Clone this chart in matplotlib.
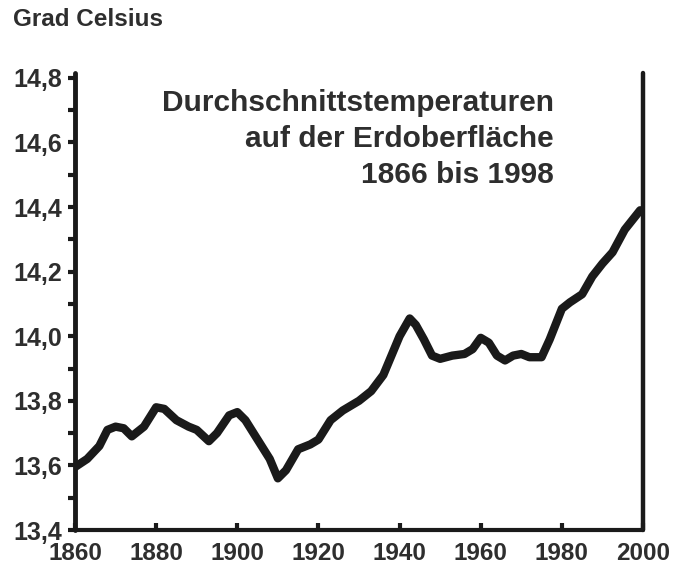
import matplotlib
matplotlib.use("Agg")
import matplotlib.pyplot as plt

# Durchschnittstemperaturen
years = [1860, 1863, 1866, 1868, 1870, 1872, 1874, 1877, 1880, 1882, 1885, 1888,
         1890, 1893, 1895, 1898, 1900, 1902, 1905, 1908, 1910, 1912, 1915, 1918,
         1920, 1923, 1926, 1930, 1933, 1936, 1938, 1940, 1942.5, 1944, 1946, 1948,
         1950, 1953, 1956, 1958, 1960, 1962, 1964, 1966, 1968, 1970, 1972, 1975,
         1977, 1980, 1982, 1985, 1987.5, 1990, 1992.5, 1995.5, 1999.3]
temps = [13.595, 13.62, 13.66, 13.71, 13.72, 13.715, 13.69, 13.72, 13.78, 13.775, 13.74, 13.72,
         13.71, 13.675, 13.70, 13.755, 13.765, 13.74, 13.68, 13.62, 13.56, 13.585, 13.65, 13.665,
         13.68, 13.74, 13.77, 13.80, 13.83, 13.88, 13.94, 14.00, 14.055, 14.035, 13.99, 13.94,
         13.93, 13.94, 13.945, 13.96, 13.995, 13.98, 13.94, 13.925, 13.94, 13.945, 13.935, 13.935,
         13.99, 14.085, 14.105, 14.13, 14.185, 14.225, 14.26, 14.33, 14.39]

ytick_vals = [13.4, 13.6, 13.8, 14.0, 14.2, 14.4, 14.6, 14.8]
ytick_labels = ["13,4", "13,6", "13,8", "14,0", "14,2", "14,4", "14,6", "14,8"]
xtick_vals = [1860, 1880, 1900, 1920, 1940, 1960, 1980, 2000]

title_lines = ["Durchschnittstemperaturen", "auf der Erdoberfläche", "1866 bis 1998"]

ink = "#1a1a1a"
txt = "#2e2e2e"
plt.rcParams['font.family'] = ['Liberation Sans', 'DejaVu Sans']

fig = plt.figure(figsize=(6.93, 5.72), dpi=100)
ax = fig.add_axes([75 / 693, 1 - 530 / 572, 568 / 693, (530 - 73) / 572])

ax.plot(years, temps, color=ink, lw=6, solid_capstyle='round', solid_joinstyle='round')

ax.set_xlim(1860, 2000)
ax.set_ylim(13.4, 14.815)

ax.set_yticks(ytick_vals)
ax.set_yticklabels(ytick_labels)
ax.set_yticks([13.5, 13.7, 13.9, 14.1, 14.3, 14.5, 14.7], minor=True)
ax.set_xticks(xtick_vals)
ax.set_xticklabels([str(v) for v in xtick_vals])

for lab in ax.get_yticklabels():
    lab.set_fontweight('bold')
    lab.set_fontsize(18)
    lab.set_color(txt)
for lab in ax.get_xticklabels():
    lab.set_fontweight('bold')
    lab.set_fontsize(17.5)
    lab.set_color(txt)

ax.tick_params(axis='y', which='both', direction='out', length=5, width=3, color=ink, pad=4)
ax.tick_params(axis='x', direction='in', length=5, width=3, color=ink, pad=9)

ax.spines['top'].set_visible(False)
ax.spines['left'].set_linewidth(3.5)
ax.spines['bottom'].set_linewidth(3)
ax.spines['right'].set_linewidth(3.2)
for s in ['left', 'bottom', 'right']:
    ax.spines[s].set_color(ink)
    ax.spines[s].set_capstyle('round')

fig.text(13 / 693, 1 - 20 / 572, "Grad Celsius", fontsize=17.5, fontweight='bold',
         color=txt, ha='left', va='center')

for i, line in enumerate(title_lines):
    fig.text(554 / 693, 1 - (103 + i * 36) / 572, line, fontsize=21.5, fontweight='bold',
             color=txt, ha='right', va='center')

fig.savefig("out.png", dpi=100)
